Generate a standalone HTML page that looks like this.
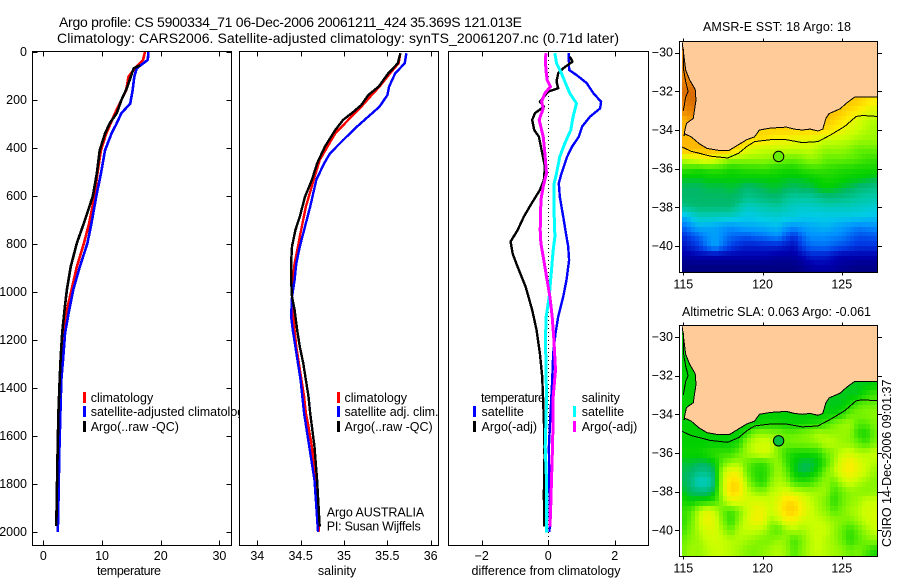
<!DOCTYPE html>
<html lang="en">
<head>
<meta charset="utf-8">
<title>Argo profile 5900334_71</title>
<style>
html,body{margin:0;padding:0;background:#fff;}
#chart{display:block;width:900px;height:580px;}
text{font-family:"Liberation Sans",Arial,sans-serif;font-size:12.5px;fill:#000;}
.title{font-size:14px;}
</style>
</head>
<body>
<svg id="chart" xmlns="http://www.w3.org/2000/svg" width="900" height="580" viewBox="0 0 900 580">
<rect x="0" y="0" width="900" height="580" fill="#fff"/>
<text class="title" x="59" y="27" textLength="463" lengthAdjust="spacing">Argo profile: CS 5900334_71 06-Dec-2006 20061211_424 35.369S 121.013E</text>
<text class="title" x="57" y="43" textLength="562" lengthAdjust="spacing">Climatology: CARS2006. Satellite-adjusted climatology: synTS_20061207.nc (0.71d later)</text>
<text x="703" y="31" textLength="148" lengthAdjust="spacing">AMSR-E SST: 18 Argo: 18</text>
<text x="682" y="316" textLength="189" lengthAdjust="spacing">Altimetric SLA: 0.063 Argo: -0.061</text>
<defs>
<clipPath id="clip-map-top"><rect x="682" y="42" width="195" height="230"/></clipPath>
<clipPath id="clip-map-bottom"><rect x="682" y="326" width="195" height="230"/></clipPath>
</defs>
<g id="layer"></g>
</svg>
<script>
/* ---------- axis tick labels ---------- */
const depthTicks = [0,200,400,600,800,1000,1200,1400,1600,1800,2000];
const tempTicks = [0,10,20,30];
const salTicks = [34,34.5,35,35.5,36];
const diffTicks = [-2,0,2];
const lonTicks = [115,120,125];
const latTicksTop = [-30,-32,-34,-36,-38,-40];
const latTicksBottom = [-30,-32,-34,-36,-38,-40];

/* ---------- temperature profiles ---------- */
const tempClimDepth = [0,33,68,103,160,200,255,340,410,507,603,713,797,895,990,1075,1170,1270,1450,1687,2000];
const tempClimValues = [17.3,17.0,15.6,14.5,14.1,13.3,12.2,10.7,9.8,9.2,8.7,7.8,6.9,5.7,4.8,4.0,3.5,3.2,2.95,2.7,2.45];
const tempSatDepth = [0,33,68,103,160,215,255,297,340,410,507,603,713,797,895,990,1075,1170,1270,1367,1505,1687,1825,2000];
const tempSatValues = [17.9,17.8,15.9,15.5,15.2,14.8,13.3,12.5,11.6,10.5,9.8,9.0,8.2,7.5,6.2,5.1,4.4,3.7,3.4,3.05,2.9,2.7,2.6,2.45];
const tempArgoDepth = [55,68,103,152,200,255,297,340,410,507,603,617,713,797,895,990,1075,1170,1270,1353,1505,1687,1825,1975];
const tempArgoValues = [16.5,15.4,14.9,14.2,13.3,12.5,11.3,10.5,9.6,9.1,8.4,8.2,6.9,5.7,4.65,4.0,3.6,3.2,2.95,2.8,2.55,2.4,2.3,2.2];

/* ---------- salinity profiles ---------- */
const salClimDepth = [5,47,89,144,179,228,283,339,394,450,533,644,769,811,881,950,1020,1089,1159,1228,1298,1367,1436,1506,1561,1645,1784,1999];
const salClimValues = [35.65,35.63,35.53,35.41,35.32,35.2,35.05,34.9,34.81,34.72,34.65,34.56,34.49,34.47,34.43,34.41,34.4,34.41,34.43,34.45,34.48,34.51,34.54,34.56,34.59,34.63,34.67,34.71];
const salSatDepth = [5,47,89,144,179,228,269,311,367,422,464,533,644,769,811,881,950,1020,1103,1159,1228,1298,1367,1506,1645,1784,1999];
const salSatValues = [35.72,35.7,35.59,35.52,35.5,35.41,35.28,35.15,34.99,34.84,34.77,34.68,34.61,34.52,34.49,34.45,34.43,34.4,34.39,34.41,34.44,34.47,34.5,34.54,34.6,34.66,34.7];
const salArgoDepth = [5,47,89,144,179,221,249,283,325,394,464,533,603,686,742,811,881,950,1020,1075,1159,1228,1298,1367,1436,1506,1561,1645,1784,1978];
const salArgoValues = [35.65,35.62,35.51,35.4,35.28,35.2,35.11,34.99,34.9,34.78,34.69,34.63,34.55,34.49,34.44,34.4,34.39,34.39,34.4,34.43,34.46,34.49,34.53,34.56,34.59,34.61,34.63,34.66,34.69,34.72];

/* ---------- difference profiles ---------- */
const diffTempSatDepth = [5,75,96,130,172,207,235,269,311,353,394,436,506,547,603,686,769,811,867,950,1020,1103,1173,1256,1367,1506,1645,1784,1923,1999];
const diffTempSatValues = [0.62,0.63,0.85,1.16,1.36,1.59,1.56,1.26,1.02,0.92,0.72,0.57,0.40,0.32,0.35,0.45,0.55,0.6,0.63,0.55,0.45,0.3,0.22,0.15,0.12,0.07,0.02,0.03,0.05,0.04];
const diffSalSatDepth = [5,47,89,130,172,214,269,325,381,436,506,547,644,769,825,908,1020,1103,1187,1298,1436,1506,1645,1784,2003];
const diffSalSatValues = [0.2,0.25,0.4,0.52,0.65,0.85,0.75,0.68,0.5,0.35,0.25,0.18,0.17,0.2,0.15,0.1,0.03,-0.06,-0.08,-0.07,-0.05,-0.06,-0.09,-0.05,-0.05];
const diffTempArgoDepth = [19,40,68,89,123,151,165,207,228,255,283,325,353,422,478,533,575,631,686,742,790,839,895,978,1075,1159,1256,1353,1534,1686,1839,1978];
const diffTempArgoValues = [0.65,0.73,0.45,0.3,0.25,0.3,0,-0.25,-0.13,-0.4,-0.48,-0.42,-0.28,-0.18,-0.1,-0.13,-0.25,-0.5,-0.73,-0.92,-1.13,-1.07,-0.92,-0.68,-0.48,-0.35,-0.25,-0.18,-0.13,-0.11,-0.13,-0.12];
const diffSalArgoDepth = [5,33,75,117,144,172,207,235,283,353,422,506,561,617,742,798,853,936,1020,1103,1200,1325,1436,1506,1645,1784,1923,1978];
const diffSalArgoValues = [-0.07,-0.08,-0.07,-0.03,0.07,-0.1,-0.2,-0.15,-0.27,-0.15,-0.1,-0.05,-0.15,-0.22,-0.24,-0.22,-0.15,-0.05,0.05,0.12,0.17,0.22,0.15,0.15,0.13,0.1,0.07,0.05];

/* ---------- map data: rows run from 29.5S to 41.5S, columns 115E to 127E, half-degree nodes ---------- */
const L = null;
const gridLons = [115,115.5,116,116.5,117,117.5,118,118.5,119,119.5,120,120.5,121,121.5,122,122.5,123,123.5,124,124.5,125,125.5,126,126.5,127];
const gridLats = [-29.5,-30,-30.5,-31,-31.5,-32,-32.5,-33,-33.5,-34,-34.5,-35,-35.5,-36,-36.5,-37,-37.5,-38,-38.5,-39,-39.5,-40,-40.5,-41,-41.5];
const sstGrid = [
[11,11,L,L,L,L,L,L,L,L,L,L,L,L,L,L,L,L,L,L,L,L,L,L,L],
[11,11,L,L,L,L,L,L,L,L,L,L,L,L,L,L,L,L,L,L,L,L,L,L,L],
[11,11,L,L,L,L,L,L,L,L,L,L,L,L,L,L,L,L,L,L,L,L,L,L,L],
[11,11,11,L,L,L,L,L,L,L,L,L,L,L,L,L,L,L,L,L,L,L,L,L,L],
[11,11,11.3,L,L,L,L,L,L,L,L,L,L,L,L,L,L,L,L,L,L,L,L,L,L],
[11.3,11.3,11.3,L,L,L,L,L,L,L,L,L,L,L,L,L,L,L,L,L,L,L,L,L,L],
[11,11.3,11.3,L,L,L,L,L,L,L,L,L,L,L,L,L,L,L,L,L,9.8,9.8,9.6,9.3,9],
[10.8,11,11,L,L,L,L,L,L,L,L,L,L,L,L,L,L,L,10,9.8,9.6,9.3,9,8.6,8.3],
[10,10.5,10.5,L,L,L,L,L,L,L,L,L,L,L,L,L,L,9.8,9.8,9.5,9.2,8.8,8.3,7.9,7.8],
[10,10,10,10,10,10,10,10,10,9.5,9.5,9.5,9.5,9.5,9.5,9.5,9.5,9.5,9.3,9,8.7,8.3,8,7.8,7.6],
[10,10,10,10,10,10,10,9.8,9.5,9.2,9.2,9,8.8,8.8,8.5,8.5,8.5,8.3,8,8,7.9,7.8,7.6,7.5,7.5],
[10,10,10,10,10,10,9.8,9.3,8.5,8.2,8,8,8,8,8,8,8,7.7,7.5,7.5,7.5,7.3,7,7,7],
[8,8.3,8.5,8.8,8.4,8,7.5,7.5,7.5,7.5,7.5,7.4,7.2,7.1,7,7.2,7.5,7.4,7,7,7,6.9,6.8,6.6,6.5],
[6.5,6.4,6.3,6.4,6.5,6.4,6.2,6.3,6.4,6.4,6.5,6.4,6.3,6.2,6.2,6.4,6.5,6.6,6.5,6.4,6.3,6.3,6.2,6.2,6.2],
[5.9,5.9,5.9,6,6,6,6,6,6,6,6,6,6,5.9,5.9,5.9,6,6.1,6.2,6.2,6.1,6,6,5.9,5.8],
[5.6,5.6,5.6,5.7,5.7,5.7,5.8,5.7,5.5,5.6,5.7,5.8,5.8,5.7,5.6,5.7,5.7,5.9,6,5.9,5.8,5.7,5.5,5.4,5.3],
[5.6,5.6,5.6,5.6,5.6,5.6,5.6,5.5,5.2,5.3,5.4,5.5,5.5,5.2,5,5,5,5.2,5.4,5.4,5.3,5.2,5,4.9,4.8],
[5.2,5.4,5.5,5.5,5.5,5.5,5.5,5,4.5,4.6,4.8,4.9,5,4.7,4.5,4.4,4.4,4.5,4.6,4.6,4.6,4.6,4.5,4.4,4.3],
[3.5,4,4.6,4.6,4.6,4.5,4.4,4.2,4,4.1,4.2,4.3,4.3,4.2,4.2,4,4,4,4,4,4,4,4,3.9,3.8],
[2.5,3,3.5,3.4,3.3,3.1,3,3.2,3.4,3.4,3.5,3.6,3.7,3.2,3,3.2,3.4,3.5,3.6,3.4,3.2,3,2.8,2.9,3],
[1.7,2.1,2.5,3,3.3,2.9,2.5,2.4,2.3,2.5,2.6,2.8,3,2.3,1.8,2.5,3,3,3,2.9,2.8,2.5,2.2,2.2,2.3],
[1.3,1.6,2,2.7,3.3,2.6,2,1.7,1.5,1.5,1.6,1.6,1.6,1.4,1.2,2,2.5,2.6,2.6,2.4,2.2,2,1.8,1.8,1.8],
[0.8,0.9,1,1,1,1,1,1,1,1,1,0.9,0.8,0.8,0.8,1.1,1.5,1.5,1.5,1.2,1,1,1,1,1],
[0.4,0.4,0.4,0.4,0.4,0.4,0.4,0.4,0.4,0.4,0.4,0.4,0.4,0.4,0.4,0.6,0.9,1,1,0.9,0.7,0.6,0.5,0.5,0.5],
[0.2,0.2,0.2,0.2,0.2,0.2,0.2,0.2,0.2,0.2,0.2,0.2,0.2,0.2,0.2,0.2,0.4,0.5,0.5,0.4,0.3,0.2,0.2,0.2,0.2]
];
const slaGrid = [
[6,6,L,L,L,L,L,L,L,L,L,L,L,L,L,L,L,L,L,L,L,L,L,L,L],
[6,6,L,L,L,L,L,L,L,L,L,L,L,L,L,L,L,L,L,L,L,L,L,L,L],
[6,6,L,L,L,L,L,L,L,L,L,L,L,L,L,L,L,L,L,L,L,L,L,L,L],
[6,6,6,L,L,L,L,L,L,L,L,L,L,L,L,L,L,L,L,L,L,L,L,L,L],
[6,6,6,L,L,L,L,L,L,L,L,L,L,L,L,L,L,L,L,L,L,L,L,L,L],
[6,6,6,L,L,L,L,L,L,L,L,L,L,L,L,L,L,L,L,L,L,L,L,L,L],
[6,6,6,L,L,L,L,L,L,L,L,L,L,L,L,L,L,L,L,L,5.9,5.9,5.9,5.9,6],
[6,6,6,L,L,L,L,L,L,L,L,L,L,L,L,L,L,L,5.9,5.9,5.9,5.9,5.9,6.3,6.6],
[6,6,6,L,L,L,L,L,L,L,L,L,5.9,5.9,5.9,5.9,5.9,5.9,5.9,5.9,5.9,6.2,6.8,7,7],
[6,6,6,6,6,6,6,6,6,6,6,6,6,6,6,6,6,6,6,6,6.3,7,7.2,7.3,7.4],
[6,6,6,6,6,6,6,6,6,6,6.2,6.2,6.2,6.1,6.1,6.1,6.2,6.3,6.6,7.2,7.5,7.6,6.8,6.8,7.2],
[6,6,6,6,6,6,6,6,6.5,7.4,7.5,7.4,7.3,7,7,7.2,7.4,7.8,7.6,7.5,7.5,7.4,6.4,6.2,7],
[6,6,6,6,6,6,6.1,6.3,7.5,8,8.2,8.1,7.3,7,7.2,7.2,7.3,7.5,7.9,7.8,7.5,7.4,7,6.6,7.2],
[6.1,6.1,6.1,6.3,6.5,6.5,6.5,7,7.6,8,8.3,8,7.2,6.5,6.2,6.2,6.2,6.3,7,7.4,8,8.2,7.8,7.8,8],
[5.8,5.8,5.7,5.7,6,7,7.5,7.6,7,6.6,6.5,7,7.5,6.6,6,5.7,5.7,5.9,6.6,7.6,8.5,9,8.5,8,7.8],
[5.7,5.6,5.3,5.3,5.7,7.8,8.7,8.5,7,6.4,6.3,6.8,7.6,7,6,5.7,5.8,6.2,7.2,7.8,8.6,9,8.5,8,7.5],
[5.7,5.4,4.5,4.6,5.6,8,9.4,9.2,7.5,6.6,6.3,7.2,7.8,7.5,6.6,6.4,6.5,7,7.5,7,7.8,8.2,7.8,7.5,7.3],
[5.9,5.6,5.5,5.5,5.9,8,9.5,9.2,8,7.5,7.3,7.8,8,8.4,8,7.8,7.6,7.6,7.5,6.6,7,7.4,7.4,7.3,7.4],
[6.2,6,6.1,6.1,6.5,7.5,8.5,8.5,8.2,8.3,8.2,8,8.5,9.3,9.3,8.6,8,7.6,7.2,6.4,7,7.4,7.6,8,8],
[6.5,6.8,7.8,8.5,8,7,6.6,7.2,8,8.7,8.7,8,8.6,9.5,9.6,8.8,8.2,7.7,7.4,6.8,7.2,7.6,7.8,8.2,8.2],
[6.4,7,8,8.8,8.3,7.2,6.4,7.4,8.2,8.8,8.6,7.6,7.8,8.7,8.7,8.2,8,8,7.8,7.5,7.3,7.2,7.6,8,8.2],
[6.6,7.2,7.8,8.3,8.3,7.6,7,7.8,8,8,7.8,7.2,6.8,7.5,7.8,7.6,7.9,8.1,8,7.5,7,6.5,7,7.6,8],
[7,7.4,7.6,8,8.2,8,7.8,7.8,7.6,7.4,7.2,7.2,7.5,7.4,6.6,7.2,7.8,8.1,7.8,7.5,7,6.4,6.8,7.2,7.4],
[7.2,7.6,7.5,7.8,8,8,7.8,7.6,7.3,7.2,7.4,7.6,7.8,7.5,6.8,7.3,7.8,8,7.8,7.6,7.4,7,7.2,6.8,6.3],
[7.2,7.6,7.5,7.8,8,8,7.8,7.6,7.3,7.2,7.4,7.6,7.8,7.5,6.8,7.3,7.8,8,7.8,7.6,7.4,7,7.2,6.6,6.2]
];

/* ---------- coastline and shelf-edge (lon / lat) ---------- */
const coastLons = [114.9,115,115.15,115.4,115.75,115.8,115.7,115.63,115.2,115.1,115.05,115.1,115.5,116,116.5,117.2,117.9,118.5,119,119.5,119.8,120.5,121.5,122,122.5,123,123.5,123.8,124,124.2,124.9,125.3,125.8,127.4,127.4,114.9];
const coastLats = [-29.3,-29.9,-30.9,-31.4,-31.9,-32.45,-33,-33.4,-33.65,-34,-34.3,-34.2,-34.35,-34.7,-34.95,-35.05,-35.05,-34.75,-34.5,-34.35,-34,-33.9,-33.85,-33.95,-34,-33.95,-34.05,-33.95,-33.4,-33.15,-32.9,-32.6,-32.3,-32.3,-29.3,-29.3];
const shelfLons = [114.85,115.5,116,116.7,117.8,118.5,119,119.5,120.5,121.5,122.5,123.5,124.3,125.2,125.9,126.3,127.3];
const shelfLats = [-34.85,-35.1,-35.2,-35.35,-35.45,-35.2,-34.85,-34.6,-34.5,-34.5,-34.65,-34.6,-34.25,-33.8,-33.3,-33.25,-33.3];
const westShelfLons = [115,115,115.15,115.3,115.15,115];
const westShelfLats = [-29.8,-30.8,-31.5,-32,-32.3,-33];
const floatLon = 121.013;
const floatLat = -35.369;

/* ---------- colour scale ---------- */
const colorLevels = [0,1,2,3,4,5,5.6,6,7,8,9,10,11,11.3];
const colorHex = ['#00006e','#0000b0','#0040e8','#0090ff','#00cce8','#00c8a0','#00b868','#00cf00','#66f000','#c8ff00','#ffee00','#ffb800','#e88000','#d86c00'];

/* ---------- helpers ---------- */
const NS = 'http://www.w3.org/2000/svg';
const layer = document.getElementById('layer');
function mk(tag, attrs, name, parent) {
  const el = document.createElementNS(NS, tag);
  for (const k in attrs) el.setAttribute(k, attrs[k]);
  
  
  (parent || layer).appendChild(el);
  return el;
}
function txt(str, x, y, name, anchor, parent, fitWidth) {
  const el = mk('text', {x: x, y: y, 'text-anchor': anchor || 'start'}, name, parent);
  if (fitWidth) {
    el.setAttribute('textLength', fitWidth);
    el.setAttribute('lengthAdjust', 'spacing');
  }
  el.textContent = str;
  return el;
}
function linear(v0, p0, v1, p1) {
  return function (v) { return p0 + (v - v0) * (p1 - p0) / (v1 - v0); };
}
function fmtMinus(v) { return String(v).replace('-', '\u2212'); }
function color(level) {
  for (let i = 0; i < colorLevels.length - 1; i++) {
    if (level <= colorLevels[i + 1]) {
      const t = Math.max(0, (level - colorLevels[i]) / (colorLevels[i + 1] - colorLevels[i]));
      const a = colorHex[i], b = colorHex[i + 1];
      const ch = [1, 3, 5].map(function (p) {
        const ca = parseInt(a.substr(p, 2), 16), cb = parseInt(b.substr(p, 2), 16);
        return Math.round(ca + (cb - ca) * t);
      });
      return 'rgb(' + ch.join(',') + ')';
    }
  }
  return colorHex[colorHex.length - 1];
}

/* ---------- profile panels ---------- */
const yDepth = linear(0, 52, 2000, 532);
const PANEL_TOP = 51.5, PANEL_BOTTOM = 545.5;

function panelFrame(left, right, xScale, ticks, prefix, xTitle, titleX, withDepthTicks, fmt, titleWidth) {
  mk('rect', {x: left, y: PANEL_TOP, width: right - left, height: PANEL_BOTTOM - PANEL_TOP, fill: '#fff', stroke: 'none'}, prefix + '-plot-area');
  ticks.forEach(function (t) {
    const px = Math.round(xScale(t)) + 0.5;
    mk('line', {x1: px, x2: px, y1: PANEL_BOTTOM, y2: PANEL_BOTTOM - 5, stroke: '#000', 'shape-rendering': 'crispEdges'}, prefix + '-x-tick-bottom');
    mk('line', {x1: px, x2: px, y1: PANEL_TOP, y2: PANEL_TOP + 5, stroke: '#000', 'shape-rendering': 'crispEdges'}, prefix + '-x-tick-top');
    txt(fmt ? fmt(t) : String(t), xScale(t), 560, prefix + '-x-tick-label', 'middle');
  });
  if (withDepthTicks) {
    depthTicks.forEach(function (d) {
      const py = Math.round(yDepth(d)) + 0.5;
      mk('line', {x1: left, x2: left + 5, y1: py, y2: py, stroke: '#000', 'shape-rendering': 'crispEdges'}, prefix + '-y-tick-left');
      mk('line', {x1: right, x2: right - 5, y1: py, y2: py, stroke: '#000', 'shape-rendering': 'crispEdges'}, prefix + '-y-tick-right');
      txt(String(d), 27, yDepth(d) + 4, prefix + '-y-tick-label', 'end');
    });
  }
  txt(xTitle, titleX, 575, prefix + '-x-axis-title', 'middle', null, titleWidth);
}
function panelBorder(left, right, prefix) {
  mk('rect', {x: left, y: PANEL_TOP, width: right - left, height: PANEL_BOTTOM - PANEL_TOP, fill: 'none', stroke: '#000', 'shape-rendering': 'crispEdges'}, prefix + '-frame');
}
function profile(depths, values, xScale, col, width, name) {
  const pts = depths.map(function (d, i) { return xScale(values[i]).toFixed(1) + ',' + yDepth(d).toFixed(1); }).join(' ');
  mk('polyline', {points: pts, fill: 'none', stroke: col, 'stroke-width': width, 'stroke-linejoin': 'round', 'shape-rendering': 'crispEdges'}, name);
}
function legendEntry(barX, textX, y, col, label, name, fitWidth) {
  if (col) mk('rect', {x: barX, y: y - 6, width: 3, height: 11, fill: col, 'shape-rendering': 'crispEdges'}, name + '-swatch');
  txt(label, textX, y + 4, name + '-label', 'start', null, fitWidth);
}

/* temperature */
const xTemp = linear(0, 43.4, 30, 219.4);
panelFrame(32.5, 231.5, xTemp, tempTicks, 'temperature', 'temperature', 129, true, null, 64);
profile(tempClimDepth, tempClimValues, xTemp, '#ff0000', 2.6, 'temperature-climatology-line');
profile(tempSatDepth, tempSatValues, xTemp, '#0000ff', 2.6, 'temperature-satellite-line');
profile(tempArgoDepth, tempArgoValues, xTemp, '#000000', 2.6, 'temperature-argo-line');
legendEntry(83, 90.7, 398, '#ff0000', 'climatology', 'temperature-legend-climatology');
legendEntry(83, 90.7, 412, '#0000ff', 'satellite-adjusted climatology', 'temperature-legend-satellite');
legendEntry(83, 90.7, 427, '#000000', 'Argo(..raw -QC)', 'temperature-legend-argo');
panelBorder(32.5, 231.5, 'temperature');

/* salinity */
const xSal = linear(34, 257.3, 36, 430.7);
panelFrame(239.5, 438.5, xSal, salTicks, 'salinity', 'salinity', 337, false);
profile(salClimDepth, salClimValues, xSal, '#ff0000', 2.4, 'salinity-climatology-line');
profile(salSatDepth, salSatValues, xSal, '#0000ff', 2.4, 'salinity-satellite-line');
profile(salArgoDepth, salArgoValues, xSal, '#000000', 2.4, 'salinity-argo-line');
legendEntry(337, 344.5, 398, '#ff0000', 'climatology', 'salinity-legend-climatology');
legendEntry(337, 344.5, 412, '#0000ff', 'satellite adj. clim.', 'salinity-legend-satellite', 94);
legendEntry(337, 344.5, 427, '#000000', 'Argo(..raw -QC)', 'salinity-legend-argo');
txt('Argo AUSTRALIA', 326.7, 516.5, 'float-owner-label', 'start', null, 97.5);
txt('PI: Susan Wijffels', 326.7, 530.5, 'principal-investigator-label', 'start', null, 94);
panelBorder(239.5, 438.5, 'salinity');

/* difference */
const xDiff = linear(-2, 481.7, 2, 614.7);
panelFrame(448.5, 648.5, xDiff, diffTicks, 'difference', 'difference from climatology', 546, false, fmtMinus, 149);
mk('line', {x1: 548.5, x2: 548.5, y1: 56, y2: 545, stroke: '#000', 'stroke-dasharray': '1 3', 'shape-rendering': 'crispEdges'}, 'zero-reference-line');
profile(diffTempSatDepth, diffTempSatValues, xDiff, '#0000ff', 2.4, 'difference-temperature-satellite-line');
profile(diffTempArgoDepth, diffTempArgoValues, xDiff, '#000000', 2.4, 'difference-temperature-argo-line');
profile(diffSalSatDepth, diffSalSatValues, xDiff, '#00ffff', 3, 'difference-salinity-satellite-line');
profile(diffSalArgoDepth, diffSalArgoValues, xDiff, '#ff00ff', 3, 'difference-salinity-argo-line');
legendEntry(0, 481, 398, null, 'temperature', 'difference-legend-temperature-heading', 64);
legendEntry(473, 481.5, 412, '#0000ff', 'satellite', 'difference-legend-temperature-satellite');
legendEntry(473, 481.5, 427, '#000000', 'Argo(-adj)', 'difference-legend-temperature-argo');
legendEntry(0, 581.7, 398, null, 'salinity', 'difference-legend-salinity-heading');
legendEntry(573, 581.7, 412, '#00ffff', 'satellite', 'difference-legend-salinity-satellite');
legendEntry(573, 581.7, 427, '#ff00ff', 'Argo(-adj)', 'difference-legend-salinity-argo');
panelBorder(448.5, 648.5, 'difference');

/* ---------- map panels ---------- */
const xLon = linear(115, 683.3, 125, 841.8);
function sampleGrid(grid, lon, lat) {
  const fc = (lon - gridLons[0]) / (gridLons[1] - gridLons[0]);
  const fr = (gridLats[0] - lat) / (gridLats[0] - gridLats[1]);
  const c0 = Math.floor(fc), r0 = Math.floor(fr);
  const tc = fc - c0, tr = fr - r0;
  let sum = 0, w = 0;
  [[r0, c0, (1 - tr) * (1 - tc)], [r0, c0 + 1, (1 - tr) * tc], [r0 + 1, c0, tr * (1 - tc)], [r0 + 1, c0 + 1, tr * tc]].forEach(function (n) {
    const row = grid[Math.min(Math.max(n[0], 0), grid.length - 1)];
    const v = row[Math.min(Math.max(n[1], 0), row.length - 1)];
    if (v !== null) { sum += v * n[2]; w += n[2]; }
  });
  return w > 0 ? sum / w : null;
}
function drawMap(opts) {
  const yLat = linear(-30, opts.lat30, -40, opts.lat30 + 193.3);
  const g = mk('g', {'clip-path': 'url(#' + opts.clip + ')'}, opts.prefix + '-map-image');
  opts.grid.forEach(function (row, r) {
    row.forEach(function (v, c) {
      for (let i = 0; i < 2; i++) {
        for (let j = 0; j < 2; j++) {
          const lonA = gridLons[c] - 0.25 + j * 0.25, latA = gridLats[r] + 0.25 - i * 0.25;
          const s = sampleGrid(opts.grid, lonA + 0.125, latA - 0.125);
          if (s === null) continue;
          const x0 = Math.round(xLon(lonA)), x1 = Math.round(xLon(lonA + 0.25));
          const y0 = Math.round(yLat(latA)), y1 = Math.round(yLat(latA - 0.25));
          mk('rect', {x: x0, y: y0, width: x1 - x0, height: y1 - y0, fill: color(s), 'shape-rendering': 'crispEdges'}, opts.prefix + '-cell', g);
        }
      }
    });
  });
  const land = coastLons.map(function (lon, i) { return xLon(lon).toFixed(1) + ',' + yLat(coastLats[i]).toFixed(1); }).join(' ');
  mk('polygon', {points: land, fill: '#ffcc99', stroke: '#000', 'stroke-width': 1, 'shape-rendering': 'crispEdges'}, opts.prefix + '-land', g);
  const shelf = shelfLons.map(function (lon, i) { return xLon(lon).toFixed(1) + ',' + yLat(shelfLats[i]).toFixed(1); }).join(' ');
  mk('polyline', {points: shelf, fill: 'none', stroke: '#000', 'stroke-width': 1, 'shape-rendering': 'crispEdges'}, opts.prefix + '-shelf-contour', g);
  const west = westShelfLons.map(function (lon, i) { return xLon(lon).toFixed(1) + ',' + yLat(westShelfLats[i]).toFixed(1); }).join(' ');
  mk('polyline', {points: west, fill: 'none', stroke: '#000', 'stroke-width': 1, 'shape-rendering': 'crispEdges'}, opts.prefix + '-west-shelf-contour', g);
  mk('circle', {cx: xLon(floatLon), cy: yLat(floatLat), r: 5.2, fill: opts.dotFill, stroke: '#000', 'stroke-width': 1}, opts.prefix + '-float-marker');
  const top = opts.top, bottom = opts.top + 231;
  mk('rect', {x: 679.5, y: top, width: 198, height: 231, fill: 'none', stroke: '#000', 'shape-rendering': 'crispEdges'}, opts.prefix + '-frame');
  lonTicks.forEach(function (t) {
    const px = Math.round(xLon(t)) + 0.5;
    mk('line', {x1: px, x2: px, y1: top, y2: top - 3, stroke: '#000', 'shape-rendering': 'crispEdges'}, opts.prefix + '-x-tick-top');
    mk('line', {x1: px, x2: px, y1: bottom, y2: bottom + 3, stroke: '#000', 'shape-rendering': 'crispEdges'}, opts.prefix + '-x-tick-bottom');
    txt(String(t), xLon(t), bottom + 16, opts.prefix + '-x-tick-label', 'middle');
  });
  opts.latTicks.forEach(function (t) {
    const py = Math.round(yLat(t)) + 0.5;
    mk('line', {x1: 679.5, x2: 675, y1: py, y2: py, stroke: '#000', 'shape-rendering': 'crispEdges'}, opts.prefix + '-y-tick-left');
    mk('line', {x1: 877.5, x2: 882, y1: py, y2: py, stroke: '#000', 'shape-rendering': 'crispEdges'}, opts.prefix + '-y-tick-right');
    txt(fmtMinus(t), 673, yLat(t) + 4, opts.prefix + '-y-tick-label', 'end');
  });
}
drawMap({prefix: 'sst', clip: 'clip-map-top', grid: sstGrid, lat30: 52.7, top: 41.5, latTicks: latTicksTop, dotFill: '#66ee00'});
drawMap({prefix: 'sla', clip: 'clip-map-bottom', grid: slaGrid, lat30: 337, top: 325.5, latTicks: latTicksBottom, dotFill: '#00c040'});

const stamp = txt('CSIRO 14-Dec-2006 09:01:37', 0, 0, 'creation-timestamp');
stamp.setAttribute('transform', 'translate(891,547) rotate(-90)');
</script>
</body>
</html>
